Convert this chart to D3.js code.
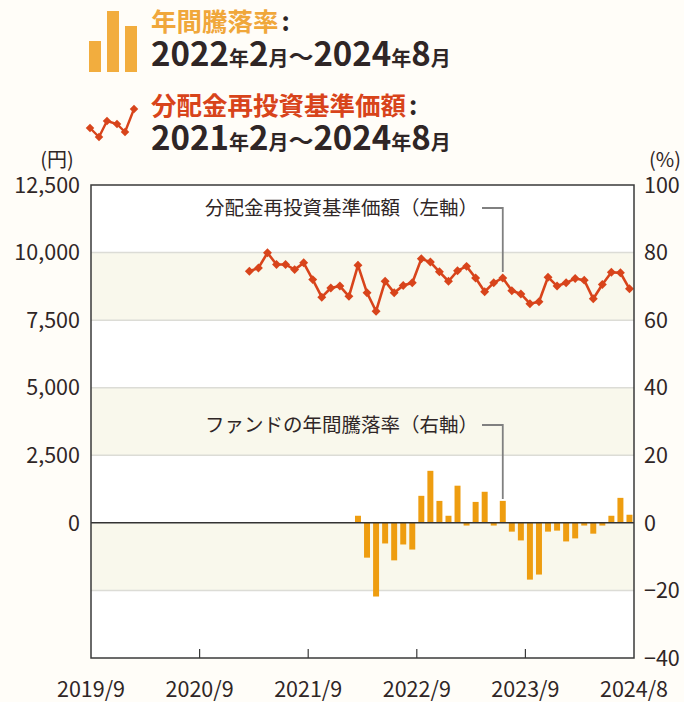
<!DOCTYPE html>
<html>
<head>
<meta charset="utf-8">
<script src="https://cdn.jsdelivr.net/npm/d3@7"></script>
<style>
  html, body { margin: 0; padding: 0; background: #fffdf8; }
  svg { display: block; font-family: "Noto Sans CJK JP", "Noto Sans", sans-serif; }
</style>
</head>
<body>
<div id="chart"></div>
<script>
// months shown on the x axis (2019/9 .. 2024/8)
var months = d3.timeMonth.range(new Date(2019, 8, 1), new Date(2024, 8, 1))
  .map(function(d) { return d.getFullYear() + "/" + (d.getMonth() + 1); });

var xTickLabels = ["2019/9", "2020/9", "2021/9", "2022/9", "2023/9", "2024/8"];
var leftTicks  = [12500, 10000, 7500, 5000, 2500, 0];
var rightTicks = [100, 80, 60, 40, 20, 0, -20, -40];

// 分配金再投資基準価額 (円), 2021/2 .. 2024/8
var navStart = "2021/2";
var navValues = [
  9310, 9430, 9990, 9560, 9560, 9370, 9620, 9000, 8350, 8690,
  8760, 8380, 9530, 8510, 7830, 8940, 8510, 8780, 8880, 9770,
  9650, 9290, 8940, 9330, 9490, 9060, 8550, 8880, 9060, 8590,
  8470, 8110, 8180, 9090, 8760, 8880, 9040, 8980, 8290, 8820,
  9270, 9250, 8660
];

// 年間騰落率 (%), 2022/2 .. 2024/8
var retStart = "2022/2";
var retValues = [
  2.1, -10.3, -21.8, -6.1, -11.1, -6.4, -7.9, 8.0, 15.4, 6.5,
  2.1, 11.0, -0.8, 6.2, 9.2, -0.8, 6.5, -2.6, -5.2, -16.8,
  -15.3, -2.6, -2.3, -5.5, -4.6, -0.8, -3.2, -0.8, 2.1, 7.4,
  2.4
];

var width = 684, height = 702;
var plotL = 91, plotR = 634, plotT = 185, plotB = 658;

var red = "#d8441b", orange = "#ee9d10", ink = "#2f2626";

var svg = d3.select("#chart").append("svg")
    .attr("width", width)
    .attr("height", height);

var x = d3.scaleBand().domain(months).range([plotL, plotR]).paddingInner(0.34).paddingOuter(0.17);
var xs = d3.scaleBand().domain(months).range([plotL, plotR]); // full month slots for ticks
var yL = d3.scaleLinear().domain([-5000, 12500]).range([plotB, plotT]);
var yR = d3.scaleLinear().domain([-40, 100]).range([plotB, plotT]);

//
// plot background with alternate bands
//
svg.append("rect")
  .attr("x", plotL).attr("y", plotT)
  .attr("width", plotR - plotL).attr("height", plotB - plotT)
  .attr("fill", "#ffffff");

var bandStarts = [10000, 5000, 0];
svg.append("g").selectAll("rect")
  .data(bandStarts)
  .enter().append("rect")
  .attr("x", plotL)
  .attr("width", plotR - plotL)
  .attr("y", function(d) { return yL(d); })
  .attr("height", function(d) { return yL(d - 2500) - yL(d); })
  .attr("fill", "#f9f8ec");

svg.append("g").selectAll("line")
  .data([10000, 7500, 5000, 2500, -2500])
  .enter().append("line")
  .attr("x1", plotL).attr("x2", plotR)
  .attr("y1", function(d) { return yL(d); })
  .attr("y2", function(d) { return yL(d); })
  .attr("stroke", "#dcdcd6")
  .attr("stroke-width", 1.5);

//
// bars (right axis)
//
var retData = retValues.map(function(v, i) {
  return { m: months[months.indexOf(retStart) + i], v: v };
});

svg.append("g").selectAll("rect")
  .data(retData)
  .enter().append("rect")
  .attr("x", function(d) { return x(d.m); })
  .attr("width", x.bandwidth())
  .attr("y", function(d) { return yR(Math.max(0, d.v)); })
  .attr("height", function(d) { return Math.abs(yR(d.v) - yR(0)); })
  .attr("fill", orange);

// zero line
svg.append("line")
  .attr("x1", plotL).attr("x2", plotR)
  .attr("y1", yL(0)).attr("y2", yL(0))
  .attr("stroke", "#333")
  .attr("stroke-width", 1.5);

//
// line (left axis)
//
var navData = navValues.map(function(v, i) {
  return { m: months[months.indexOf(navStart) + i], v: v };
});
var cx = function(d) { return x(d.m) + x.bandwidth() / 2; };

svg.append("path")
  .datum(navData)
  .attr("fill", "none")
  .attr("stroke", red)
  .attr("stroke-width", 2.6)
  .attr("d", d3.line().x(cx).y(function(d) { return yL(d.v); }));

svg.append("g").selectAll("path")
  .data(navData)
  .enter().append("path")
  .attr("d", d3.symbol().type(d3.symbolSquare).size(40))
  .attr("fill", red)
  .attr("transform", function(d) { return "translate(" + cx(d) + "," + yL(d.v) + ") rotate(45)"; });

//
// frame and axes
//
svg.append("rect")
  .attr("x", plotL).attr("y", plotT)
  .attr("width", plotR - plotL).attr("height", plotB - plotT)
  .attr("fill", "none")
  .attr("stroke", "#3a3a3a")
  .attr("stroke-width", 1.5);

svg.append("g").selectAll("line")
  .data(xTickLabels.slice(1, -1))
  .enter().append("line")
  .attr("x1", function(d) { return xs(d); })
  .attr("x2", function(d) { return xs(d); })
  .attr("y1", plotB).attr("y2", plotB - 9)
  .attr("stroke", "#3a3a3a")
  .attr("stroke-width", 1.2);

svg.append("g").selectAll("text")
  .data(xTickLabels)
  .enter().append("text")
  .attr("x", function(d, i) { return i === xTickLabels.length - 1 ? xs(d) + xs.bandwidth() : xs(d); })
  .attr("y", 697)
  .attr("text-anchor", "middle")
  .attr("font-size", 21.5)
  .attr("fill", ink)
  .text(function(d) { return d; });

svg.append("g").selectAll("text")
  .data(leftTicks)
  .enter().append("text")
  .attr("x", 80)
  .attr("y", function(d) { return yL(d); })
  .attr("dy", "0.36em")
  .attr("text-anchor", "end")
  .attr("font-size", 21.5)
  .attr("fill", ink)
  .text(d3.format(","));

svg.append("g").selectAll("text")
  .data(rightTicks)
  .enter().append("text")
  .attr("x", 644)
  .attr("y", function(d) { return yR(d); })
  .attr("dy", "0.36em")
  .attr("font-size", 21.5)
  .attr("fill", ink)
  .text(function(d) { return d < 0 ? "\u2212" + Math.abs(d) : d; });

svg.append("text").attr("x", 57).attr("y", 167).attr("text-anchor", "middle")
  .attr("font-size", 20).attr("fill", ink).text("(円)");
svg.append("text").attr("x", 681).attr("y", 167).attr("text-anchor", "end")
  .attr("font-size", 20).attr("fill", ink).text("(%)");

//
// annotations
//
function annotate(label, ty, target, targetY) {
  var t = svg.append("text")
    .attr("x", 205).attr("y", ty).attr("dy", "0.35em")
    .attr("font-size", 19.5)
    .attr("fill", ink)
    .text(label);
  var w = t.node().getBBox().width;
  var px = cx(target);
  svg.append("path")
    .attr("fill", "none")
    .attr("stroke", "#808080")
    .attr("stroke-width", 1.8)
    .attr("d", "M" + (205 + w + 4) + "," + ty + "H" + px + "V" + targetY);
}
var navPick = navData[months.indexOf("2023/6") - months.indexOf(navStart)];
var retPick = retData[months.indexOf("2023/6") - months.indexOf(retStart)];
annotate("分配金再投資基準価額（左軸）", 208, navPick, yL(navPick.v) - 6);
annotate("ファンドの年間騰落率（右軸）", 425, retPick, yR(retPick.v) - 2);

//
// legend
//
var legendBars = [31, 61, 46];
svg.append("g").selectAll("rect")
  .data(legendBars)
  .enter().append("rect")
  .attr("x", function(d, i) { return 89 + i * 18; })
  .attr("y", function(d) { return 72 - d; })
  .attr("width", 12)
  .attr("height", function(d) { return d; })
  .attr("fill", "#f2ad3e");

var legendLine = [[90, 128], [99, 137], [107, 121], [117, 124], [125, 132], [134, 109]];
svg.append("path")
  .attr("d", d3.line()(legendLine))
  .attr("fill", "none").attr("stroke", red).attr("stroke-width", 2.4);
svg.append("g").selectAll("path")
  .data(legendLine)
  .enter().append("path")
  .attr("d", d3.symbol().type(d3.symbolSquare).size(36))
  .attr("fill", red)
  .attr("transform", function(d) { return "translate(" + d[0] + "," + d[1] + ") rotate(45)"; });

function legendTitle(txt, color, y) {
  var t = svg.append("text").attr("x", 151).attr("y", y)
    .attr("font-size", 25.5).attr("font-weight", "bold");
  t.append("tspan").attr("fill", color).text(txt);
  t.append("tspan").attr("fill", ink).attr("dx", 3).text(":");
}
function legendPeriod(parts, y) {
  var t = svg.append("text").attr("x", 151).attr("y", y)
    .attr("font-weight", "bold").attr("fill", ink);
  parts.forEach(function(p) {
    t.append("tspan")
      .attr("font-size", /^\d+$/.test(p) ? 33 : (p === "～" ? 25 : 20))
      .text(p);
  });
}
legendTitle("年間騰落率", "#f0a73b", 31);
legendPeriod(["2022", "年", "2", "月", "～", "2024", "年", "8", "月"], 66);
legendTitle("分配金再投資基準価額", red, 115);
legendPeriod(["2021", "年", "2", "月", "～", "2024", "年", "8", "月"], 150);
</script>
</body>
</html>
